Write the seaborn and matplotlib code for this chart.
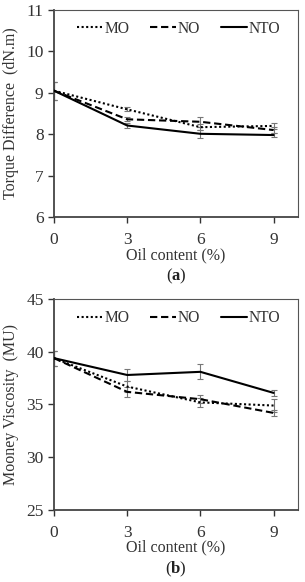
import matplotlib
matplotlib.use("Agg")
import matplotlib.pyplot as plt
import seaborn as sns
import pandas as pd
import numpy as np

oil = [0, 3, 6, 9]
series = ["MO", "NO", "NTO"]

torque_MO = [9.05, 8.60, 8.17, 8.20]
torque_NO = [9.05, 8.36, 8.30, 8.10]
torque_NTO = [9.05, 8.21, 8.01, 7.98]
torque_err_MO = [0.22, 0.05, 0.08, 0.08]
torque_err_NO = [0.22, 0.05, 0.12, 0.08]
torque_err_NTO = [0.22, 0.05, 0.10, 0.05]

mooney_MO = [39.4, 36.7, 35.2, 34.9]
mooney_NO = [39.4, 36.2, 35.5, 34.2]
mooney_NTO = [39.4, 37.8, 38.1, 36.1]
mooney_err_MO = [0.7, 0.5, 0.4, 0.6]
mooney_err_NO = [0.7, 0.5, 0.4, 0.3]
mooney_err_NTO = [0.7, 0.6, 0.7, 0.3]

sns.set_theme(style="ticks")
plt.rcParams['font.family'] = ['Liberation Serif', 'DejaVu Serif']
plt.rcParams['mathtext.fontset'] = 'custom'
plt.rcParams['mathtext.rm'] = 'Liberation Serif'
plt.rcParams['mathtext.bf'] = 'Liberation Serif:bold'

def long_df(vals, errs):
    rows = []
    for s in series:
        for x, v, e in zip(oil, vals[s], errs[s]):
            rows.append({"oil": x, "val": v, "err": e, "series": s})
    return pd.DataFrame(rows)

df_a = long_df({"MO": torque_MO, "NO": torque_NO, "NTO": torque_NTO},
               {"MO": torque_err_MO, "NO": torque_err_NO, "NTO": torque_err_NTO})
df_b = long_df({"MO": mooney_MO, "NO": mooney_NO, "NTO": mooney_NTO},
               {"MO": mooney_err_MO, "NO": mooney_err_NO, "NTO": mooney_err_NTO})

fig = plt.figure(figsize=(3.05, 5.82), dpi=100)
ax_a = fig.add_axes([0.177, 0.627, 0.800, 0.356])
ax_b = fig.add_axes([0.177, 0.124, 0.800, 0.362])

dashes = {"MO": (1, 1.2), "NO": (3.5, 1.8), "NTO": ""}

def draw(ax, df, ylim, yticks, ylabel, letter, cap_y):
    for s in series:
        d = df[df.series == s]
        ax.errorbar(d.oil, d.val, yerr=d.err, fmt='none', ecolor='#777777',
                    elinewidth=0.8, capsize=2, capthick=0.8, zorder=1)
    sns.lineplot(data=df, x="oil", y="val", style="series", dashes=dashes,
                 color="black", linewidth=1.5, ax=ax, errorbar=None, zorder=3)
    ax.set_xlim(0, 10)
    ax.set_ylim(*ylim)
    ax.set_xticks([0, 3, 6, 9])
    ax.set_yticks(yticks)
    ax.set_xlabel("Oil content (%)", fontsize=11.5, color="#333333", labelpad=-1)
    ax.set_ylabel(ylabel, fontsize=11.5, color="#333333", labelpad=5)
    ax.tick_params(axis='both', labelsize=12.5, colors="#333333", direction='out',
                   length=4, width=1)
    ax.tick_params(axis='x', pad=7)
    for side in ["left", "bottom"]:
        ax.spines[side].set_color("#444444")
        ax.spines[side].set_linewidth(1.3)
    for side in ["top", "right"]:
        ax.spines[side].set_visible(True)
        ax.spines[side].set_color("#555555")
        ax.spines[side].set_linewidth(0.8)
    leg = ax.legend(loc="upper center", ncol=3, frameon=False, fontsize=11.2,
                    handlelength=1.7, handletextpad=0.1, columnspacing=1.3,
                    bbox_to_anchor=(0.51, 1.0), borderaxespad=0.3)
    for t in leg.get_texts():
        t.set_color("#333333")
    ax.text(0.5, cap_y, "(" + r"$\mathbf{" + letter + "}$" + ")", transform=ax.transAxes,
            ha='center', va='center', fontsize=12, color="#222222")

draw(ax_a, df_a, (6, 11), [6, 7, 8, 9, 10, 11], "Torque Difference  (dN.m)", "a", -0.285)
draw(ax_b, df_b, (25, 45), [25, 30, 35, 40, 45], "Mooney Viscosity  (MU)", "b", -0.285)

fig.savefig("out.png", dpi=100)
